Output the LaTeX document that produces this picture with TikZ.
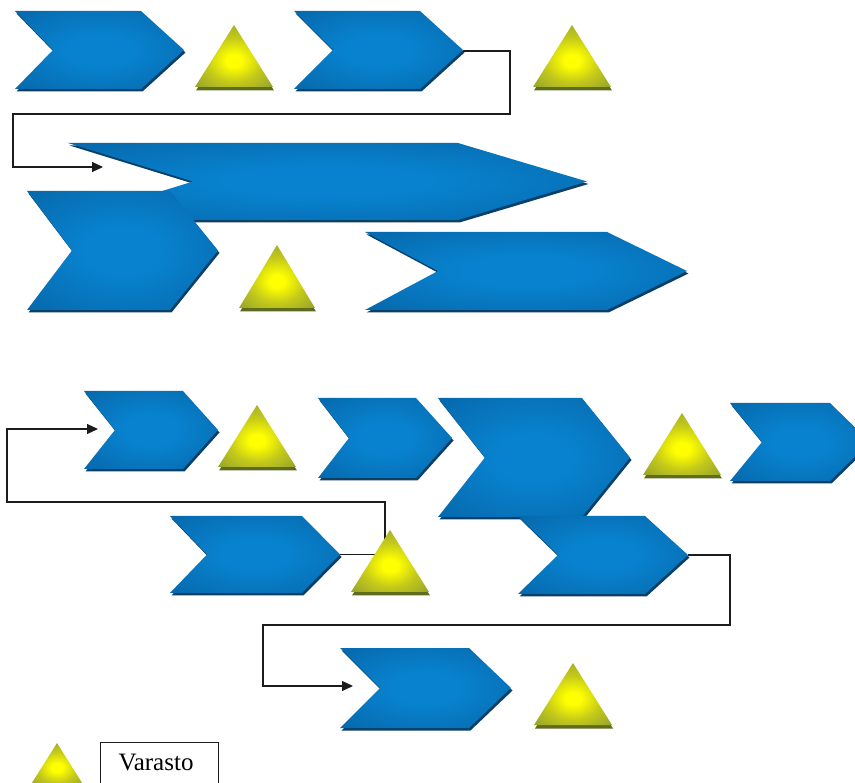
\documentclass[tikz,border=0pt]{standalone}
\usepackage{fontspec}
\setmainfont{Liberation Serif}
\usetikzlibrary{arrows.meta}

% process arrows (blue) and stock triangles (yellow)
\definecolor{chevLight}{HTML}{0882CE}
\definecolor{chevMid}{HTML}{0770B6}
\definecolor{chevDark}{HTML}{045E9C}
\definecolor{chevShadow}{HTML}{0A3F68}
\definecolor{triLight}{HTML}{FFFF00}
\definecolor{triMid}{HTML}{C4C91A}
\definecolor{triDark}{HTML}{9AA62A}
\definecolor{triShadow}{HTML}{5E6C1E}
\definecolor{linkGray}{HTML}{1C1C1C}

\pgfdeclareradialshading{chevglow}{\pgfpointorigin}{%
  color(0bp)=(chevLight); color(10bp)=(chevLight); color(28bp)=(chevMid);
  color(44bp)=(chevDark); color(75bp)=(chevDark)}
\pgfdeclareradialshading{triglow}{\pgfpoint{0bp}{-4bp}}{%
  color(0bp)=(triLight); color(5bp)=(triLight); color(18bp)=(triMid);
  color(32bp)=(triDark); color(75bp)=(triDark)}

\tikzset{
  link/.style={draw=linkGray, line width=1.1pt},
  linkarrow/.style={link, -{Triangle[length=11pt,width=10pt]}},
  legendbox/.style={draw=linkGray, line width=1pt, rectangle},
}

% \processarrow{name}{left x}{top y}{tip x}{bottom y}{notch depth}{tip depth}
\newcommand\processarrow[7]{%
  \pgfmathsetmacro\chevmid{(#3+#5)/2}%
  \pgfmathsetmacro\chevnotch{#2+#6}%
  \pgfmathsetmacro\chevshoulder{#4-#7}%
  \begin{scope}[shift={(1.5,2.5)}]
    \fill[chevShadow] (#2,#3) -- (\chevshoulder,#3) -- (#4,\chevmid)
      -- (\chevshoulder,#5) -- (#2,#5) -- (\chevnotch,\chevmid) -- cycle;
  \end{scope}
  \shade[shading=chevglow] (#2,#3) -- (\chevshoulder,#3) -- (#4,\chevmid)
      -- (\chevshoulder,#5) -- (#2,#5) -- (\chevnotch,\chevmid) -- cycle;
  \coordinate (#1) at ({(#2+#4)/2},\chevmid);
  \coordinate (#1-tip) at (#4,\chevmid);
  \coordinate (#1-notch) at (\chevnotch,\chevmid);
}

% \stocktri{name}{apex x}{apex y}{base y}{half width}
\newcommand\stocktri[5]{%
  \begin{scope}[shift={(1,3.5)}]
    \fill[triShadow] (#2,#3) -- ({#2+#5},#4) -- ({#2-#5},#4) -- cycle;
  \end{scope}
  \shade[shading=triglow] (#2,#3) -- ({#2+#5},#4) -- ({#2-#5},#4) -- cycle;
  \coordinate (#1) at (#2,{(#3+2*#4)/3});
}

\begin{document}
\begin{tikzpicture}[x=1pt, y=-1pt]
\useasboundingbox (0,0) rectangle (855,783);
\clip (0,0) rectangle (855,783);

% entry points of the connectors
\coordinate (C-in) at (103,167);
\coordinate (F-in) at (98,429);
\coordinate (L-in) at (353,686);
\coordinate (G-out) at (340,554.5);
\coordinate (J-out) at (688,555);
\coordinate (B-out) at (463,51);

% connectors (drawn first so the shapes sit on top)
\draw[linkarrow] (B-out) -- (510,51) |- (13,114) |- (C-in);
\draw[linkarrow] (G-out) -| (385,502) -| (7,429) -- (F-in);
\draw[linkarrow] (J-out) -| (730,625) -| (263,686) -- (L-in);

% first row
\processarrow{A}{15}{11}{184}{89}{38}{43}
\stocktri{T1}{234}{25}{87}{39}
\processarrow{B}{294}{11}{463}{89}{39}{43}
\stocktri{T2}{572}{25}{87}{39}

% second row
\processarrow{C}{68}{143}{587}{220}{125}{129}
\processarrow{D}{27}{191}{218}{310}{45}{48}
\stocktri{T3}{277}{245}{308}{38}
\processarrow{E}{365}{232}{687}{310}{73}{80}

% third row
\processarrow{F}{84}{391}{218}{469}{31}{35}
\stocktri{T4}{257}{405}{467}{39}
\processarrow{H}{318}{398}{452}{478}{31}{36}
\processarrow{I}{438}{398}{630}{517}{47}{48}
\processarrow{J}{518}{516}{688}{594}{40}{43}
\stocktri{T6}{682}{413}{475}{39}
\processarrow{K}{730}{403}{870}{481}{32}{40}

% fourth row
\processarrow{G}{170}{516}{340}{593}{37}{38}
\stocktri{T5}{390}{530}{592}{39}

% fifth row
\processarrow{L}{340}{648}{511}{728}{40}{42}
\stocktri{T7}{573}{663}{725}{39}

% legend
\stocktri{T8}{57}{743}{786}{27}
\node[legendbox, minimum width=118pt, minimum height=56pt, anchor=north west]
  (legend) at (100,742) {};
\node[anchor=base, font=\fontsize{25}{28}\selectfont, inner sep=0pt]
  (legendtext) at (156,770) {Varasto};
\end{tikzpicture}
\end{document}
